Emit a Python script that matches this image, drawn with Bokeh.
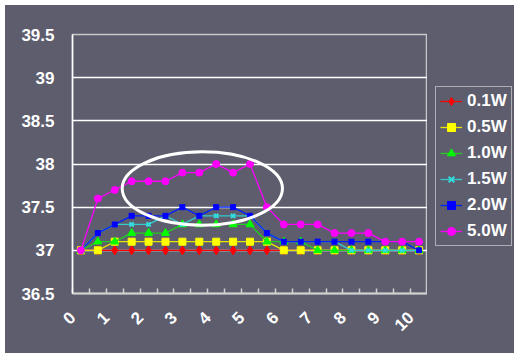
import math
from bokeh.plotting import figure
from bokeh.models import Legend, LegendItem, FixedTicker
from bokeh.layouts import row
from bokeh.embed import file_html
from bokeh.resources import INLINE

# ---- data ----
time_points = [0, 0.5, 1, 1.5, 2, 2.5, 3, 3.5, 4, 4.5, 5,
               5.5, 6, 6.5, 7, 7.5, 8, 8.5, 9, 9.5, 10]
x_tick_labels = ["0", "1", "2", "3", "4", "5", "6", "7", "8", "9", "10"]
series_names = ["0.1W", "0.5W", "1.0W", "1.5W", "2.0W", "5.0W"]
temp_01w = [37.0, 37.0, 37.0, 37.0, 37.0, 37.0, 37.0, 37.0, 37.0, 37.0, 37.0,
            37.0, 37.0, 37.0, 37.0, 37.0, 37.0, 37.0, 37.0, 37.0, 37.0]
temp_05w = [37.0, 37.0, 37.1, 37.1, 37.1, 37.1, 37.1, 37.1, 37.1, 37.1, 37.1,
            37.1, 37.0, 37.0, 37.0, 37.0, 37.0, 37.0, 37.0, 37.0, 37.0]
temp_10w = [37.0, 37.1, 37.1, 37.2, 37.2, 37.2, 37.3, 37.3, 37.3, 37.3, 37.3,
            37.1, 37.1, 37.1, 37.0, 37.0, 37.0, 37.0, 37.0, 37.0, 37.0]
temp_15w = [37.0, 37.2, 37.3, 37.3, 37.3, 37.4, 37.3, 37.4, 37.4, 37.4, 37.4,
            37.2, 37.1, 37.1, 37.1, 37.1, 37.0, 37.0, 37.0, 37.0, 37.0]
temp_20w = [37.0, 37.2, 37.3, 37.4, 37.4, 37.4, 37.5, 37.4, 37.5, 37.5, 37.4,
            37.2, 37.1, 37.1, 37.1, 37.1, 37.1, 37.1, 37.1, 37.1, 37.0]
temp_50w = [37.0, 37.6, 37.7, 37.8, 37.8, 37.8, 37.9, 37.9, 38.0, 37.9, 38.0,
            37.5, 37.3, 37.3, 37.3, 37.2, 37.2, 37.2, 37.1, 37.1, 37.1]
y_ticks = [36.5, 37.0, 37.5, 38.0, 38.5, 39.0, 39.5]
y_tick_labels = ["36.5", "37", "37.5", "38", "38.5", "39", "39.5"]

# highlight ellipse (annotation)
ellipse_x, ellipse_y, ellipse_w, ellipse_h = 3.59, 37.716, 4.74, 0.85

BG = "#5d5d6e"
FONT = "Liberation Sans"

p = figure(width=422, height=348, output_backend="svg", toolbar_location=None,
           x_range=(-0.25, 10.25), y_range=(36.5, 39.5),
           background_fill_color=BG, border_fill_color=BG,
           min_border_left=67, min_border_top=29, min_border_right=0,
           min_border_bottom=60)
p.outline_line_color = "#c8c8c8"
p.outline_line_width = 1.5

# y axis
p.yaxis.ticker = FixedTicker(ticks=y_ticks)
p.yaxis.major_label_overrides = {v: s for v, s in zip(y_ticks, y_tick_labels)}
p.yaxis.major_tick_line_color = None
p.yaxis.minor_tick_line_color = None
p.yaxis.major_tick_out = 0
p.yaxis.major_tick_in = 0
p.yaxis.axis_line_color = "white"
p.yaxis.axis_line_width = 1.5
p.yaxis.major_label_standoff = 18
p.yaxis.major_label_text_color = "white"
p.yaxis.major_label_text_font = FONT
p.yaxis.major_label_text_font_style = "bold"
p.yaxis.major_label_text_font_size = "17px"

# x axis: tick marks at category boundaries, labels every other category
boundaries = [-0.25 + 0.5 * k for k in range(22)]
p.xaxis.ticker = FixedTicker(ticks=boundaries)
overrides = {}
for k, b in enumerate(boundaries):
    overrides[b] = x_tick_labels[k // 2] if (k % 2 == 0 and k // 2 < len(x_tick_labels)) else ""
p.xaxis.major_label_overrides = overrides
p.xaxis.major_tick_in = 5
p.xaxis.major_tick_out = 0
p.xaxis.major_tick_line_color = "#d0d0d0"
p.xaxis.major_tick_line_width = 1.5
p.xaxis.minor_tick_line_color = None
p.xaxis.axis_line_color = "#d0d0d0"
p.xaxis.axis_line_width = 2
p.xaxis.major_label_orientation = math.pi / 4
p.xaxis.major_label_standoff = 21
p.xaxis.major_label_text_color = "white"
p.xaxis.major_label_text_font = FONT
p.xaxis.major_label_text_font_style = "bold"
p.xaxis.major_label_text_font_size = "17px"

p.xgrid.grid_line_color = None
p.ygrid.ticker = FixedTicker(ticks=y_ticks)
p.ygrid.grid_line_color = "white"
p.ygrid.grid_line_width = 1.5

series = [temp_01w, temp_05w, temp_10w, temp_15w, temp_20w, temp_50w]
line_colors = ["#ff0000", "#e6e600", "#22cc22", "#33cccc", "#0022ff", "#ff00ff"]
marker_colors = ["#ff0000", "#ffff00", "#00ff00", "#33dddd", "#0000ff", "#ff00ff"]
markers = ["diamond", "square", "triangle", "x", "square_x", "circle"]
sizes = [9, 7, 8, 6, 5, 7]
legend_sizes = [7, 6, 6, 5, 4, 6]
marker_lw = [1, 1, 1, 2, 1, 1]

for ys, lc, mc, mk, sz, mlw in zip(series, line_colors, marker_colors, markers, sizes, marker_lw):
    p.line(time_points, ys, line_color=lc, line_width=1.3)
    p.scatter(time_points, ys, marker=mk, size=sz, fill_color=mc,
              line_color=mc, line_width=mlw)

p.ellipse(x=[ellipse_x], y=[ellipse_y], width=[ellipse_w], height=[ellipse_h],
          fill_color=None, line_color="white", line_width=3)

# legend panel (separate figure so the legend can sit outside the plot area)
lp = figure(width=87, height=348, output_backend="svg", toolbar_location=None,
            x_range=(0, 1), y_range=(0, 1), x_axis_type=None, y_axis_type=None,
            background_fill_color=BG, border_fill_color=BG,
            min_border_left=0, min_border_right=0, min_border_top=29,
            min_border_bottom=60)
lp.outline_line_color = None
lp.xgrid.grid_line_color = None
lp.ygrid.grid_line_color = None

items = []
for name, ys, lc, mc, mk, sz, mlw in zip(series_names, series, line_colors, marker_colors,
                                          markers, legend_sizes, marker_lw):
    lr = lp.line(time_points, ys, line_color=lc, line_width=1.3)
    sr = lp.scatter(time_points, ys, marker=mk, size=sz, fill_color=mc,
                    line_color=mc, line_width=mlw)
    items.append(LegendItem(label=name, renderers=[lr, sr]))

legend = Legend(items=items, location=(8, 47))
legend.border_line_color = "white"
legend.border_line_width = 1.5
legend.background_fill_color = BG
legend.background_fill_alpha = 1.0
legend.label_text_color = "white"
legend.label_text_font = FONT
legend.label_text_font_style = "bold"
legend.label_text_font_size = "17px"
legend.label_height = 20
legend.glyph_height = 20
legend.glyph_width = 22
legend.spacing = 6
legend.padding = 4
legend.label_standoff = 5
legend.margin = 0
lp.add_layout(legend)

layout = row(p, lp, margin=(5, 0, 0, 5), styles={"background-color": BG})
open("out.html", "w").write(file_html(layout, INLINE))
